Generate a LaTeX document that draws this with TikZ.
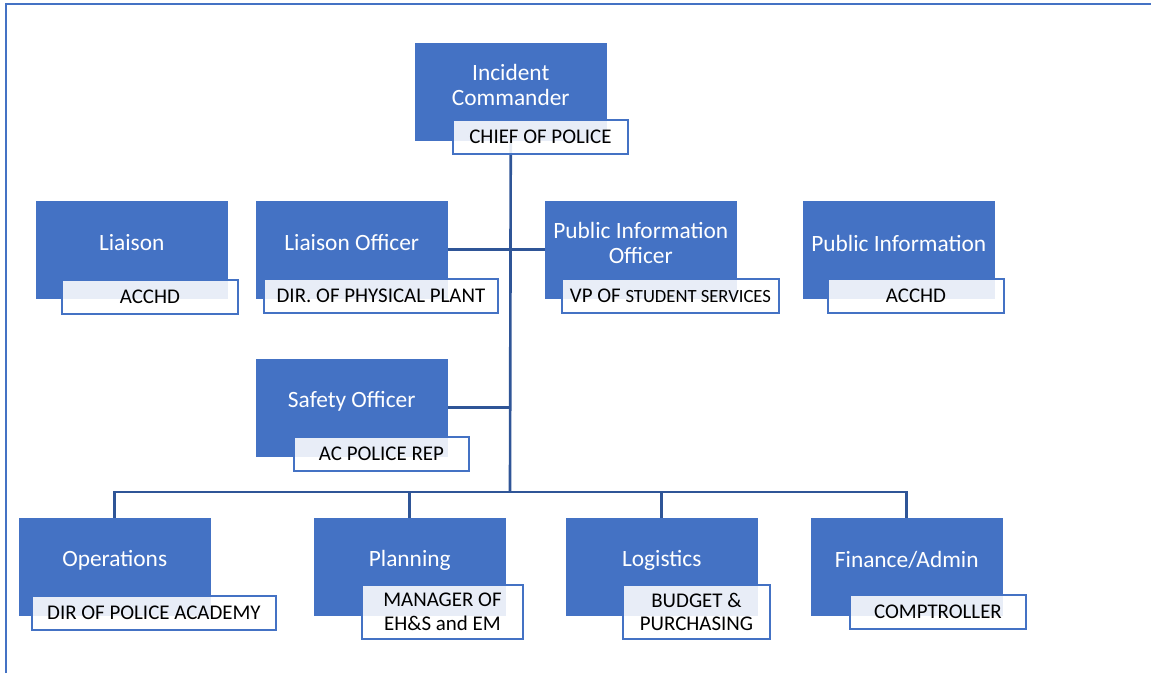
\documentclass[tikz,border=0pt]{standalone}
\usepackage{fontspec}
\setmainfont{Carlito}
\usetikzlibrary{positioning,backgrounds}
\definecolor{boxblue}{HTML}{4472C4}
\definecolor{lineblue}{HTML}{2F5597}

\begin{document}
\begin{tikzpicture}[x=0.02cm,y=-0.02cm,
	role/.style={fill=boxblue, draw=boxblue, line width=0.3pt, anchor=north west, minimum width=3.82cm, minimum height=1.94cm, inner sep=0pt},
	roletext/.style={text=white, align=center, font=\fontsize{13.3}{14.7}\selectfont},
	holder/.style={fill=white, fill opacity=0.88, text opacity=1, draw=boxblue, line width=1.1pt, anchor=north west, minimum height=0.68cm, inner sep=0pt, align=center, font=\fontsize{11.9}{13.6}\selectfont},
	link/.style={draw=lineblue, line width=1.5pt}]
		\useasboundingbox (0,0) rectangle (1151,673);
		
		%frame
		\draw[boxblue, line width=1.2pt] (6,673) -- (6,4) -- (1151,4);
		
		%command
		\node[role] (ic) at (415,43) {};
		\node[roletext] (ic-lbl) at ([yshift=-0.84cm]ic.north) {Incident\\Commander};
		\node[holder, minimum width=3.5cm] (ic-sub) at (452,119) {CHIEF OF POLICE};
		
		%staff
		\node[role] (li) at (36,201) {};
		\node[roletext] (li-lbl) at ([yshift=-0.84cm]li.north) {Liaison};
		\node[holder, minimum width=3.52cm] (li-sub) at (61,279) {ACCHD};
		
		\node[role] (lo) at (256,201) {};
		\node[roletext] (lo-lbl) at ([yshift=-0.84cm]lo.north) {Liaison Officer};
		\node[holder, minimum width=4.68cm] (lo-sub) at (263,278) {DIR. OF PHYSICAL PLANT};
		
		\node[role] (pio) at (545,201) {};
		\node[roletext] (pio-lbl) at ([yshift=-0.84cm]pio.north) {Public Information\\Officer};
		\node[holder, minimum width=4.34cm] (pio-sub) at (561,278) {VP OF {\fontsize{10.6}{12}\selectfont STUDENT SERVICES}};
		
		\node[role] (pi) at (803,201) {};
		\node[roletext] (pi-lbl) at ([yshift=-0.84cm]pi.north) {Public Information};
		\node[holder, minimum width=3.52cm] (pi-sub) at (827,278) {ACCHD};
		
		\node[role] (so) at (256,359) {};
		\node[roletext] (so-lbl) at ([yshift=-0.84cm]so.north) {Safety Officer};
		\node[holder, minimum width=3.5cm] (so-sub) at (293,436) {AC POLICE REP};
		
		%sections
		\node[role] (ops) at (19,518) {};
		\node[roletext] (ops-lbl) at ([yshift=-0.84cm]ops.north) {Operations};
		\node[holder, minimum width=4.88cm] (ops-sub) at (31,595) {DIR OF POLICE ACADEMY};
		
		\node[role] (plan) at (314,518) {};
		\node[roletext] (plan-lbl) at ([yshift=-0.84cm]plan.north) {Planning};
		\node[holder, minimum width=3.22cm, minimum height=1.08cm] (plan-sub) at (361,584) {MANAGER OF\\EH\&S and EM};
		
		\node[role] (log) at (566,518) {};
		\node[roletext] (log-lbl) at ([yshift=-0.84cm]log.north) {Logistics};
		\node[holder, minimum width=2.94cm, minimum height=1.08cm] (log-sub) at (622,584) {BUDGET \&\\PURCHASING};
		
		\node[role] (fin) at (811,518) {};
		\node[roletext] (fin-lbl) at ([yshift=-0.84cm]fin.north) {Finance/Admin};
		\node[holder, minimum width=3.52cm] (fin-sub) at (849,594) {COMPTROLLER};
		
		%lines
		\coordinate (bus) at (510,492);
		\begin{scope}[on background layer]
			\draw[link] (ic.south) -- (bus);
			\draw[link] (lo.east) -- (pio.west);
			\draw[link] (so.east) -- (so.east -| bus);
			\draw[link] (ops.north) |- (bus) -| (fin.north);
			\draw[link] (plan.north) -- (plan.north |- bus);
			\draw[link] (log.north) -- (log.north |- bus);
		\end{scope}
		
\end{tikzpicture}
\end{document}
